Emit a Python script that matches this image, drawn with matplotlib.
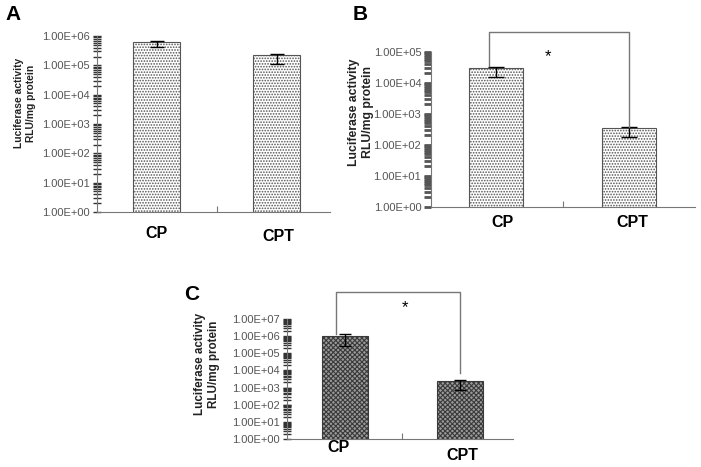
import matplotlib
matplotlib.use("Agg")
import matplotlib.pyplot as plt
from matplotlib.ticker import LogLocator, FuncFormatter, NullFormatter

plt.rcParams['font.family'] = ['Liberation Sans', 'DejaVu Sans']
plt.rcParams['hatch.linewidth'] = 0.8

# data (log scale)
groups = ["CP", "CPT"]
a_mean = [6.1e5, 2.24e5]
a_low = [4.3e5, 1.08e5]
a_high = [6.6e5, 2.4e5]
b_mean = [2.9e4, 338]
b_low = [1.5e4, 173]
b_high = [3.3e4, 363]
c_mean = [1.06e6, 2.5e3]
c_low = [2.75e5, 720]
c_high = [1.25e6, 2.9e3]

W, H = 701, 467
fig = plt.figure(figsize=(W / 100, H / 100), dpi=100)


def px_axes(left, right, top, bottom):
    return fig.add_axes([left / W, 1 - bottom / H, (right - left) / W, (bottom - top) / H])


def panel(ax, mean, low, high, ymax, xlim, width, style, capsize, tickcolor):
    x = range(len(groups))
    err = [[m - l for m, l in zip(mean, low)], [h - m for m, h in zip(mean, high)]]
    if style == "dots":
        ax.bar(x, mean, width=width, color="white", edgecolor="#555555",
               hatch="......", linewidth=0.8)
    else:
        ax.bar(x, mean, width=width, color="#9a9a9a", edgecolor="#3a3a3a",
               hatch="xxxxxxx", linewidth=0.8)
    ax.errorbar(x, mean, yerr=err, fmt="none", ecolor="black", elinewidth=1,
                capsize=capsize, capthick=1)
    ax.set_yscale("log")
    ax.set_ylim(1, ymax)
    ax.set_xlim(*xlim)
    ax.yaxis.set_major_locator(LogLocator(base=10, numticks=10))
    ax.yaxis.set_minor_locator(LogLocator(base=10, subs=range(2, 10), numticks=10))
    ax.yaxis.set_major_formatter(FuncFormatter(lambda v, p: f"{v:.2E}"))
    ax.yaxis.set_minor_formatter(NullFormatter())
    ax.set_xticks([0.5])
    ax.set_xticklabels([])
    for s in ["top", "right"]:
        ax.spines[s].set_visible(False)
    for s in ["left", "bottom"]:
        ax.spines[s].set_color("#777777")
    ax.tick_params(axis="x", direction="in", length=4, color="#777777")
    ax.tick_params(axis="y", which="major", direction="inout", length=6, width=1,
                   color=tickcolor, labelsize=8, labelcolor="#555555", pad=2)
    ax.tick_params(axis="y", which="minor", direction="inout", length=6, width=1,
                   color=tickcolor)
    ax.patch.set_alpha(0)


ylab = "Luciferase activity\nRLU/mg protein"

# Panel A
axA = px_axes(97, 330, 36, 212)
panel(axA, a_mean, a_low, a_high, 1e6, (-0.494, 1.44), 0.39, "dots", 5, "#333333")
fig.text(5 / W, 1 - 20 / H, "A", fontsize=15, fontweight="bold")
fig.text(25 / W, 1 - 103 / H, ylab, rotation=90, ha="center", va="center",
         multialignment="center", fontsize=7.4, fontweight="bold", color="#222222")
fig.text(156 / W, 1 - 234 / H, groups[0], ha="center", va="center", fontsize=11.5, fontweight="bold")
fig.text(278 / W, 1 - 236 / H, groups[1], ha="center", va="center", fontsize=11.5, fontweight="bold")

# Panel B
axB = px_axes(431, 695, 51.7, 206.7)
panel(axB, b_mean, b_low, b_high, 1e5, (-0.489, 1.496), 0.406, "dots", 6, "#555555")
axB.tick_params(axis="y", which="both", direction="out", length=5, width=2)
axB.plot([-0.05, -0.05, 1.0, 1.0], [b_high[0] * 1.05, 4.2e5, 4.2e5, b_high[1] * 1.05],
         color="#777777", lw=1, clip_on=False)
axB.text(0.39, 7e4, "*", ha="center", va="center", fontsize=12)
fig.text(353 / W, 1 - 20 / H, "B", fontsize=15, fontweight="bold")
fig.text(361 / W, 1 - 112 / H, ylab, rotation=90, ha="center", va="center",
         multialignment="center", fontsize=8.8, fontweight="bold", color="#222222")
fig.text(503 / W, 1 - 222 / H, groups[0], ha="center", va="center", fontsize=11.5, fontweight="bold")
fig.text(632 / W, 1 - 222 / H, groups[1], ha="center", va="center", fontsize=11.5, fontweight="bold")

# Panel C
axC = px_axes(287, 513, 319, 439)
panel(axC, c_mean, c_low, c_high, 1e7, (-0.504, 1.461), 0.4, "cross", 4, "#333333")
axC.plot([-0.08, -0.08, 1.0, 1.0], [c_high[0] * 1.1, 3.9e8, 3.9e8, c_high[1] * 2.4],
         color="#777777", lw=1, clip_on=False)
axC.text(0.52, 4.5e7, "*", ha="center", va="center", fontsize=12)
fig.text(184 / W, 1 - 300 / H, "C", fontsize=15, fontweight="bold")
fig.text(207 / W, 1 - 364 / H, ylab, rotation=90, ha="center", va="center",
         multialignment="center", fontsize=8.4, fontweight="bold", color="#222222")
fig.text(339 / W, 1 - 447 / H, groups[0], ha="center", va="center", fontsize=11.5, fontweight="bold")
fig.text(462 / W, 1 - 455 / H, groups[1], ha="center", va="center", fontsize=11.5, fontweight="bold")

fig.savefig("out.png", dpi=100)
